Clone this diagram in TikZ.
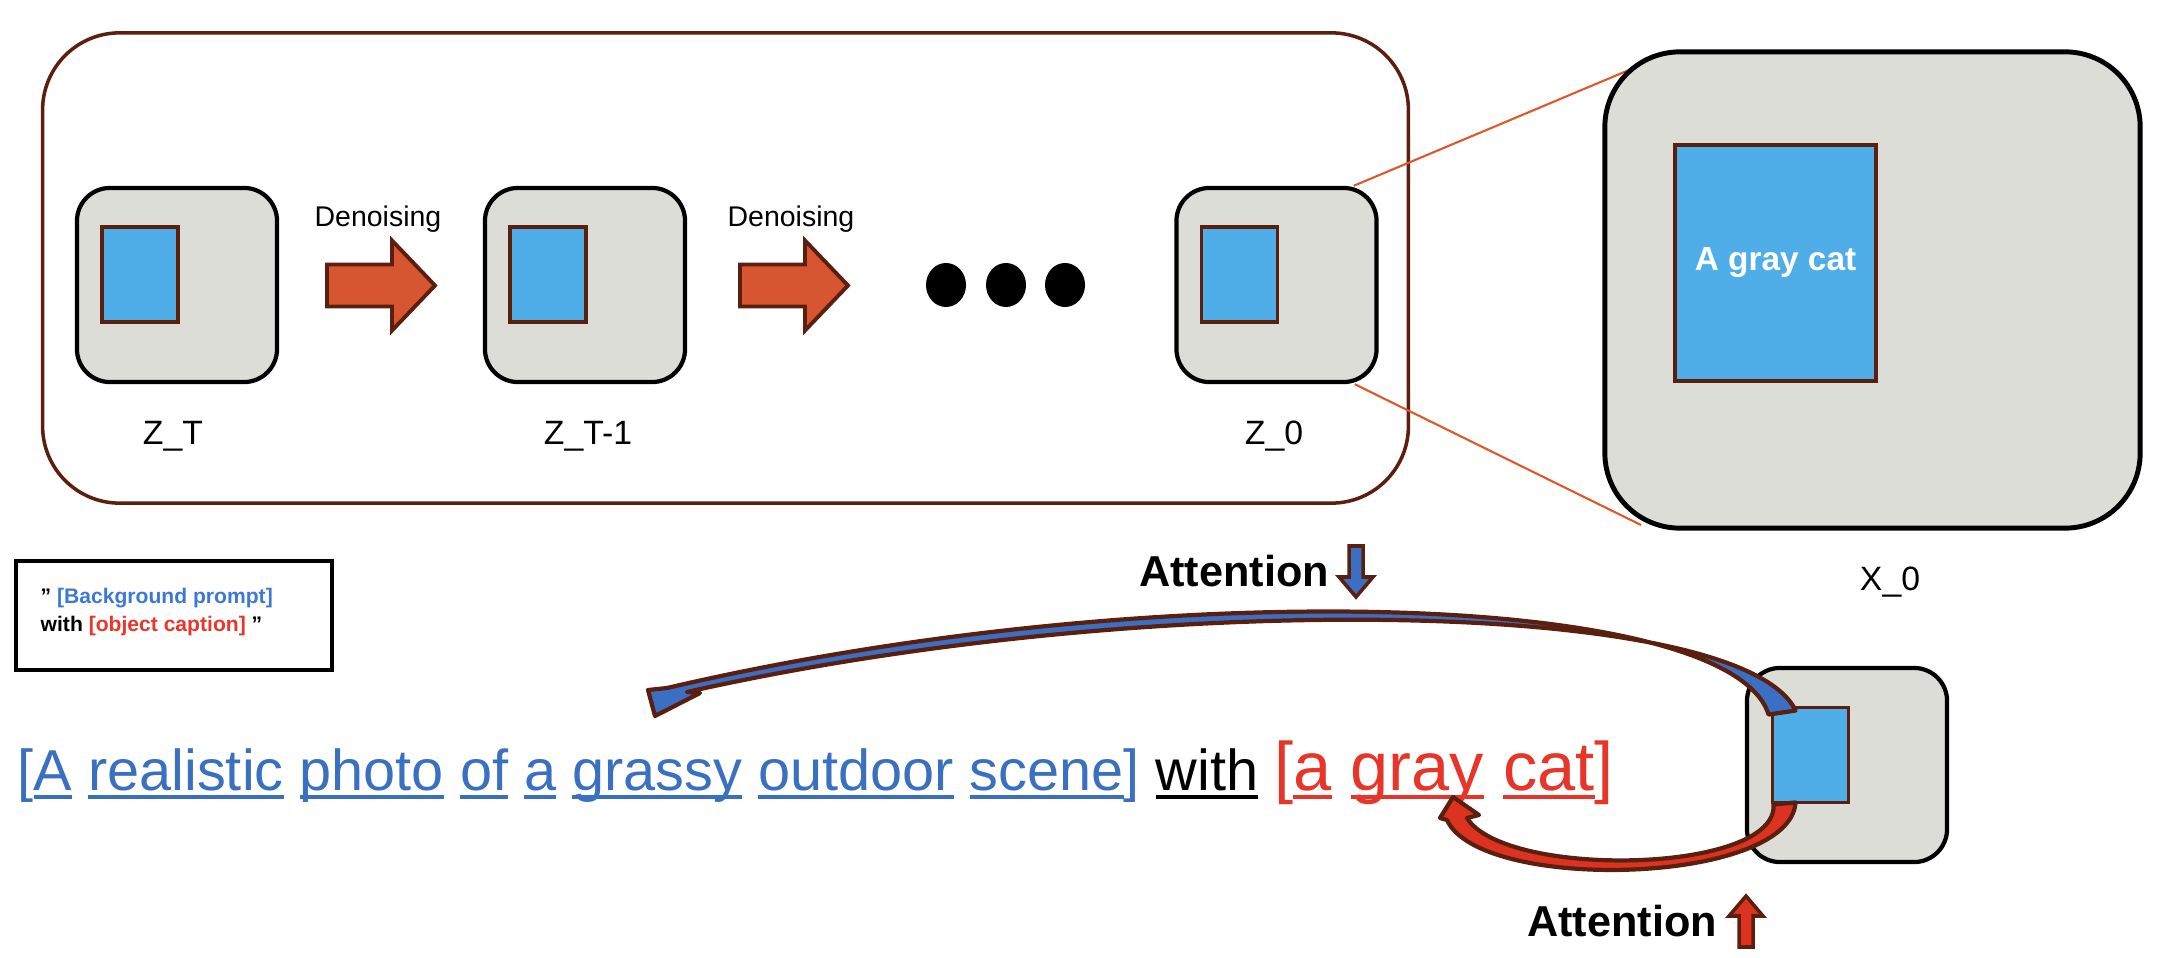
\documentclass[tikz,border=0pt]{standalone}
\usepackage{fontspec}
\setmainfont{Liberation Sans}
\usetikzlibrary{calc}

\newlength{\wordwd}
\newcommand{\wordline}[1]{\settowidth{\wordwd}{#1}\rlap{\rule[-2.6pt]{\wordwd}{1.1pt}}#1}
\newcommand{\qmark}{\symbol{34}}

\definecolor{boxgray}{HTML}{DDDDD8}
\definecolor{objblue}{HTML}{4FAEE8}
\definecolor{darkbrown}{HTML}{5B1F0F}
\definecolor{arroworange}{HTML}{D85531}
\definecolor{zoomline}{HTML}{E0572E}
\definecolor{promptblue}{HTML}{3C78D8}
\definecolor{promptred}{HTML}{E8372A}
\definecolor{textblue}{HTML}{3A70C0}
\definecolor{textred}{HTML}{E8352A}
\definecolor{attnblue}{HTML}{3A6FC4}
\definecolor{attnred}{HTML}{DD3220}

\tikzset{
  outerframe/.style = {draw=darkbrown, line width=1pt, rounded corners=0.77cm,
    minimum width=13.65cm, minimum height=4.7cm},
  latent/.style = {draw=black, line width=1.2pt, fill=boxgray, rounded corners=0.33cm,
    minimum width=2cm, minimum height=1.94cm},
  obj/.style    = {draw=darkbrown, line width=1.1pt, fill=objblue,
    minimum width=0.76cm, minimum height=0.95cm, inner sep=0pt},
  zoomln/.style = {draw=zoomline, line width=0.6pt},
  lbl/.style    = {font=\fontsize{9.6}{11}\selectfont, inner sep=0pt},
  dnlbl/.style  = {font=\fontsize{8.1}{10}\selectfont, inner sep=0pt},
  attn/.style   = {font=\fontsize{12.3}{14}\selectfont\bfseries, inner sep=0pt},
  promptbox/.style = {draw=black, line width=1.1pt, minimum width=3.16cm, minimum height=1.09cm},
  prompttxt/.style = {font=\fontsize{6}{8}\selectfont\bfseries, align=left, inner sep=0pt},
  curvearrow/.style = {draw=darkbrown, line width=1.2pt, line join=round},
  denoise/.pic = {
    \draw[darkbrown, line width=1.1pt, fill=arroworange]
      (0,-21) -- (65,-21) -- (65,-45) -- (108,0) -- (65,45) -- (65,21) -- (0,21) -- cycle;
  },
  attnarrow/.pic = {
    \draw[pic actions, draw=darkbrown, line width=1pt]
      (-7,0) -- (7,0) -- (7,31) -- (17,31) -- (0,51) -- (-17,31) -- (-7,31) -- cycle;
  }
}

\begin{document}
\begin{tikzpicture}[x=0.01cm, y=-0.01cm]
\useasboundingbox (0,0) rectangle (2170,958);

% denoising chain
\node[outerframe] (chain) at (725.5,268) {};
\coordinate (x0a) at (1641,65);
\coordinate (x0b) at (1641,525);

\node[latent] (zt)  at (177,285) {};
\node[latent] (zt1) at (585,285) {};
\node[latent] (z0)  at (1276.5,285) {};
\node[obj] (ztobj)  at (140,274.5) {};
\node[obj] (zt1obj) at (548,274.5) {};
\node[obj] (z0obj)  at (1239.5,274.5) {};

\node[lbl, anchor=base] (ztlbl)  at (173,445) {Z\_T};
\node[lbl, anchor=base] (zt1lbl) at (588,445) {Z\_T-1};
\node[lbl, anchor=base] (z0lbl)  at (1274,445) {Z\_0};

\node[dnlbl, anchor=base] (dn1) at (378,227) {Denoising};
\node[dnlbl, anchor=base] (dn2) at (791,227) {Denoising};
\pic at (327,285.5) {denoise};
\pic at (740,285.5) {denoise};

\foreach \x in {946,1006,1065}
  \fill (\x,285) ellipse [x radius=0.2cm, y radius=0.22cm];

% zoom to x_0
\draw[zoomln] ($(z0.north east)+(-25,0)$) -- (x0a);
\draw[zoomln] ($(z0.south east)+(-24,0)$) -- (x0b);

\node[latent, minimum width=5.35cm, minimum height=4.76cm, rounded corners=0.75cm,
  line width=1.4pt] (x0) at (1872.5,290) {};
\node[obj, minimum width=2.01cm, minimum height=2.36cm, text=white,
  font=\fontsize{9.5}{11}\selectfont\bfseries] (x0obj) at (1775.5,263) {A gray cat};
\node[lbl, anchor=base] (x0lbl) at (1890,590) {X\_0};

% prompt template
\node[promptbox] (prompt) at (174,615.5) {};
\node[prompttxt, anchor=west] (prompttxt) at (40,612)
  {\qmark{} {\color{promptblue}[Background prompt]}\\with {\color{promptred}[object caption]} \qmark};

% attention
\node[attn] (attn1) at (1234,571) {Attention};
\pic[fill=attnblue] at (1356,546) {attnarrow};
\node[attn] (attn2) at (1622,921) {Attention};
\pic[fill=attnred, rotate=180] at (1746,947) {attnarrow};

\node[anchor=base west, inner sep=0pt, font=\fontsize{16.4}{20}\selectfont] (sentence) at (17,790)
  {{\color{textblue}[\wordline{A} \wordline{realistic} \wordline{photo} \wordline{of}
   \wordline{a} \wordline{grassy} \wordline{outdoor} \wordline{scene}]} \wordline{with}
   {\fontsize{19.5}{22}\selectfont\color{textred}[\wordline{a} \wordline{gray} \wordline{cat}]}};

\node[latent] (zsmall) at (1847,765) {};
\node[obj] (smallobj) at (1810.5,755) {};

\coordinate (bluetip) at (655,716);
\coordinate (redtip) at (1453,797);
\draw[curvearrow, fill=attnblue] ($(smallobj.north west)+(-2,9)$)
  .. controls (1730,590) and (1150,575) .. (667,688) -- (648,690) -- (bluetip)
  -- (700,693) -- (687,692)
  .. controls (1150,588) and (1742,598) .. ($(smallobj.north west)+(25,5)$) -- cycle;
\draw[curvearrow, fill=attnred] ($(smallobj.south west)+(25,-2)$)
  .. controls (1790,885) and (1480,893) .. (1447,820) -- (1440,818) -- (redtip)
  -- (1479,815) -- (1467,818)
  .. controls (1505,879) and (1778,874) .. ($(smallobj.south west)+(3,0)$) -- cycle;
\end{tikzpicture}
\end{document}
